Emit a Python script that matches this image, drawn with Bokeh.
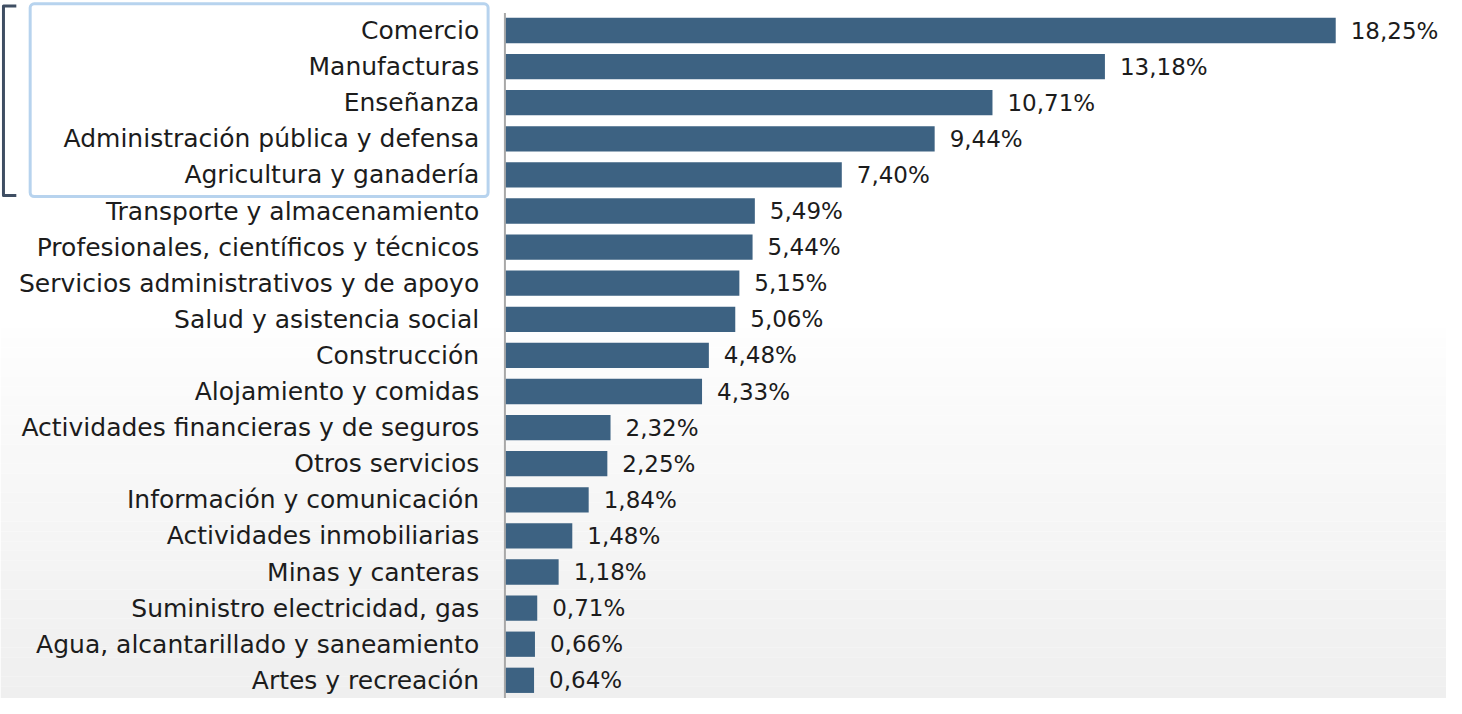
from bokeh.plotting import figure
from bokeh.models import Range1d, BoxAnnotation, ColumnDataSource
from bokeh.core.properties import value
from bokeh.embed import file_html
from bokeh.resources import INLINE

sectors = [
    "Comercio",
    "Manufacturas",
    "Enseñanza",
    "Administración pública y defensa",
    "Agricultura y ganadería",
    "Transporte y almacenamiento",
    "Profesionales, científicos y técnicos",
    "Servicios administrativos y de apoyo",
    "Salud y asistencia social",
    "Construcción",
    "Alojamiento y comidas",
    "Actividades financieras y de seguros",
    "Otros servicios",
    "Información y comunicación",
    "Actividades inmobiliarias",
    "Minas y canteras",
    "Suministro electricidad, gas",
    "Agua, alcantarillado y saneamiento",
    "Artes y recreación",
]
shares = [18.25, 13.18, 10.71, 9.44, 7.40, 5.49, 5.44, 5.15, 5.06, 4.48,
          4.33, 2.32, 2.25, 1.84, 1.48, 1.18, 0.71, 0.66, 0.64]
share_labels = [f"{v:.2f}".replace(".", ",") + "%" for v in shares]
highlighted = 5  # first five sectors framed

# ---- layout constants (pixels) ----
W, H = 1446, 698
SX = W / 1462.0          # horizontal scale vs reference
AXIS_PX = 510 * SX
PX_PER_UNIT = (1350 - 510) * SX / 18.25
ROW0_PX = 30.0
ROW_PX = 36.1

x_start = -AXIS_PX / PX_PER_UNIT
x_end = (W - AXIS_PX) / PX_PER_UNIT
y_top = -ROW0_PX / ROW_PX
y_bottom = (H - ROW0_PX) / ROW_PX


def px2x(ref_px):
    return (ref_px * SX - AXIS_PX) / PX_PER_UNIT


def py2row(ref_py):
    return (ref_py - 34) / 37.1


p = figure(width=W, height=H, x_range=Range1d(x_start, x_end),
           y_range=Range1d(y_bottom, y_top), output_backend="svg",
           toolbar_location=None, min_border=0)
p.axis.visible = False
p.grid.visible = False
p.outline_line_color = None
p.background_fill_color = "white"
p.border_fill_color = "white"

# soft background gradient toward the bottom
n_bands = 40
g_top = py2row(330)
g_bot = y_bottom + 0.2
for i in range(n_bands):
    t0 = g_top + (g_bot - g_top) * i / n_bands
    t1 = g_top + (g_bot - g_top) * (i + 1) / n_bands
    c = int(round(255 - 16 * ((i + 0.5) / n_bands) ** 0.8))
    p.add_layout(BoxAnnotation(top=t0, bottom=t1, fill_color=f"#{c:02x}{c:02x}{c:02x}",
                               fill_alpha=1, line_color=None, level="underlay"))

rows = list(range(len(sectors)))
src = ColumnDataSource(dict(y=rows, share=shares, sector=sectors, lab=share_labels))

p.hbar(y="y", left=0, right="share", height=0.7, fill_color="#3d6282",
       line_color=None, source=src)

# axis line
p.segment(x0=[0], y0=[py2row(16)], x1=[0], y1=[y_bottom + 1],
          line_color="#a8a8a8", line_width=2)

FONT = value("DejaVu Sans")
p.text(x=0, y="y", text="sector", x_offset=-26 * SX, text_align="right",
       text_baseline="middle", text_font=FONT, text_font_size="25px",
       text_color="#1c1c1c", source=src)
p.text(x="share", y="y", text="lab", x_offset=15, text_align="left",
       text_baseline="middle", text_font=FONT, text_font_size="23px",
       text_color="#1c1c1c", source=src)

# highlight box around the top five
p.add_layout(BoxAnnotation(left=px2x(30), right=px2x(493),
                           top=-0.74, bottom=highlighted - 1 + 0.6,
                           fill_alpha=0, line_color="#b7d3ee", line_alpha=1,
                           line_width=3, border_radius=4, level="overlay"))

# bracket on the left
bx_in = px2x(16)
bx_out = px2x(3)
p.line(x=[bx_in, bx_out, bx_out, bx_in],
       y=[-0.68, -0.68, highlighted - 1 + 0.57, highlighted - 1 + 0.57],
       line_color="#3f4e63", line_width=3, line_join="round")

open("out.html", "w").write(file_html(p, INLINE))
